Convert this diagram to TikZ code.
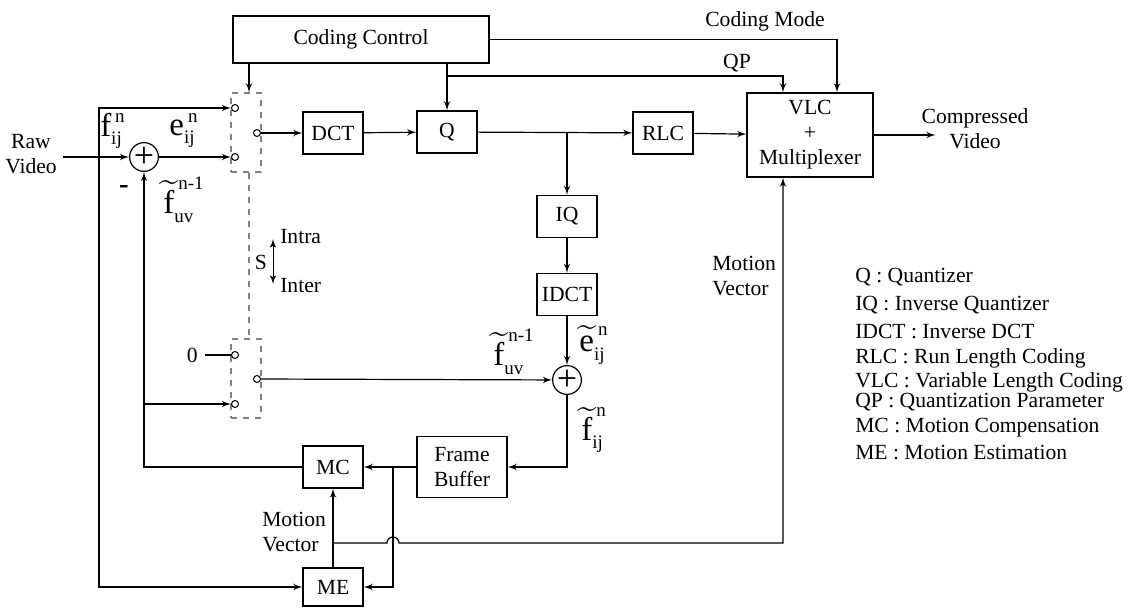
\documentclass[tikz,border=0pt]{standalone}
\usepackage{amsmath}
\usepackage{fontspec}
\setmainfont{Liberation Serif}
\usetikzlibrary{shapes,arrows,positioning,calc}

\newcommand{\scr}[1]{\text{\fontsize{9.5}{9.5}\selectfont #1}}
\newcommand{\sigl}[4]{$#1{\text{#2}}^{\,\scr{#3}}_{\scr{#4}}$}

\begin{document}
\begin{tikzpicture}[
    x=0.5pt, y=-0.5pt,
    line width=0.6pt,
    every node/.style={font=\fontsize{10.8}{12.5}\selectfont},
    block/.style={rectangle, draw, minimum width=30pt, minimum height=21pt, inner sep=0pt, align=center},
    sum/.style={circle, draw, minimum size=12.5pt, inner sep=0pt, font=\fontsize{18}{18}\selectfont},
    term/.style={circle, draw, fill=white, minimum size=3.5pt, inner sep=0pt, line width=0.5pt},
    switchbox/.style={rectangle, draw=gray, dashed, minimum width=15pt, minimum height=39.5pt, inner sep=0pt},
    sig/.style={font=\fontsize{16.5}{18}\selectfont, inner sep=0pt},
    line/.style={draw, -latex'}
]
\useasboundingbox (0,0) rectangle (1128,608);

% Blocks
\node[block, minimum width=128pt, minimum height=23.5pt] (ctrl) at (361,39.5) {Coding Control};
\node[block] (dct) at (333,133) {DCT};
\node[block] (q) at (447,132) {Q};
\node[block] (rlc) at (663,133) {RLC};
\node[block, minimum width=63pt, minimum height=42pt] (vlc) at (810,135) {VLC\\+\\Multiplexer};
\node[block] (iq) at (567,216.5) {IQ};
\node[block] (idct) at (567,294.5) {IDCT};
\node[block, minimum width=45pt, minimum height=30.5pt] (fb) at (462,467) {Frame\\Buffer};
\node[block] (mc) at (333,467) {MC};
\node[block, minimum height=19pt] (me) at (333,587) {ME};

% Adders
\node[sum] (sumA) at (144,157) {+};
\node[sum] (sumB) at (567,380) {+};

% Switches
\node[switchbox] (swA) at (246,132.5) {};
\node[switchbox] (swB) at (246,378.5) {};
\node[term] (tA1) at (235,108) {};
\node[term] (tA2) at (235,157) {};
\node[term] (tAo) at (257,133) {};
\node[term] (tB0) at (235,355) {};
\node[term] (tBo) at (257,379) {};
\node[term] (tB1) at (235,404) {};
\node[anchor=east] (zero) at (205,355) {0};

% Junctions
\coordinate (rawin) at (63,157);
\coordinate (jraw) at (99,157);
\coordinate (qp) at (447,76);
\coordinate (qbr) at (567,133);
\coordinate (fbj) at (393,467);
\coordinate (mvj) at (333,543);
\coordinate (fbk) at (sumA |- tB1);

% Connections
\path [line] (rawin) -- (sumA);
\path [line] (jraw) |- (tA1);
\path [line] (jraw) |- (me.west);
\path [line] (sumA) -- (tA2);
\path [line] ([xshift=1.5pt]ctrl.south -| swA.north) -- ([xshift=1.5pt]swA.north);
\path [line] (tAo) -- (dct);
\path [line] (dct) -- (q);
\path [line] (q) -- (rlc);
\path [line] (rlc) -- (vlc);
\path [line] (ctrl.south -| q.north) -- (q.north);
\path [line] (qp) -| ([xshift=-13.5pt]vlc.north);
\path [line] (ctrl.east) -| ([xshift=13.5pt]vlc.north);
\path [line] (vlc.east) -- ++(31pt,0) coordinate (out);
\path [line] (qbr) -- (iq);
\path [line] (iq) -- (idct);
\path [line] (idct) -- (sumB);
\path [line] (tBo) -- (sumB);
\path [line] (sumB) |- (fb.east);
\path [line] (fb.west) -- (mc.east);
\path [line] (fbj) |- (me.east);
\path [line] (mc.west) -| (sumA);
\path [line] (fbk) -- (tB1);
\path [line] (me) -- (mc);
\path [line] (mvj) -- ($(fbj |- mvj)+(-3pt,0)$) arc[start angle=180, end angle=0, radius=3pt] -| ([xshift=-13.5pt]vlc.south);
\draw (zero.east) -- (tB0);
\draw[gray, dashed] ([xshift=1.5pt]swA.south) -- ([xshift=1.5pt]swB.north);
\draw[latex'-latex', line width=0.5pt] (273,239) coordinate (sup) -- (273,284) coordinate (sdn);

% Labels
\node[align=center] (rawlbl) at (31,154) {Raw\\Video};
\node (cmode) at (765,21) {Coding Mode};
\node (qplbl) at (737,63) {QP};
\node[align=center] (outlbl) at (975,129) {Compressed\\Video};
\node[anchor=west, align=left] (mvA) at (705,276) {Motion\\Vector};
\node[anchor=west, align=left] (mvB) at (255,532) {Motion\\Vector};
\node (slbl) at (261,262) {S};
\node[anchor=west] (intra) at (273,237) {Intra};
\node[anchor=west] (inter) at (273,286) {Inter};
\node[sig] (fA) at (113,131) {\sigl{}{f}{n}{ij}};
\node[sig] (eA) at (184,131) {\sigl{}{e}{n}{ij}};
\node[sig, font=\Large\bfseries] (minus) at (124,190) {-};
\node[sig] (ftA) at (184,200) {\sigl{\widetilde}{f}{n-1}{uv}};
\node[sig] (ftB) at (514,352) {\sigl{\widetilde}{f}{n-1}{uv}};
\node[sig] (etB) at (594,345) {\sigl{\widetilde}{e}{n}{ij}};
\node[sig] (fnB) at (594,430) {\sigl{\widetilde}{f}{n}{ij}};

% Legend
\foreach \ly/\ltxt in {277/{Q : Quantizer}, 305/{IQ : Inverse Quantizer}, 332/{IDCT : Inverse DCT},
    358/{RLC : Run Length Coding}, 382/{VLC : Variable Length Coding}, 402/{QP : Quantization Parameter},
    428/{MC : Motion Compensation}, 453/{ME : Motion Estimation}}
  \node[anchor=west] (lg\ly) at (848,\ly) {\ltxt};

\end{tikzpicture}
\end{document}
